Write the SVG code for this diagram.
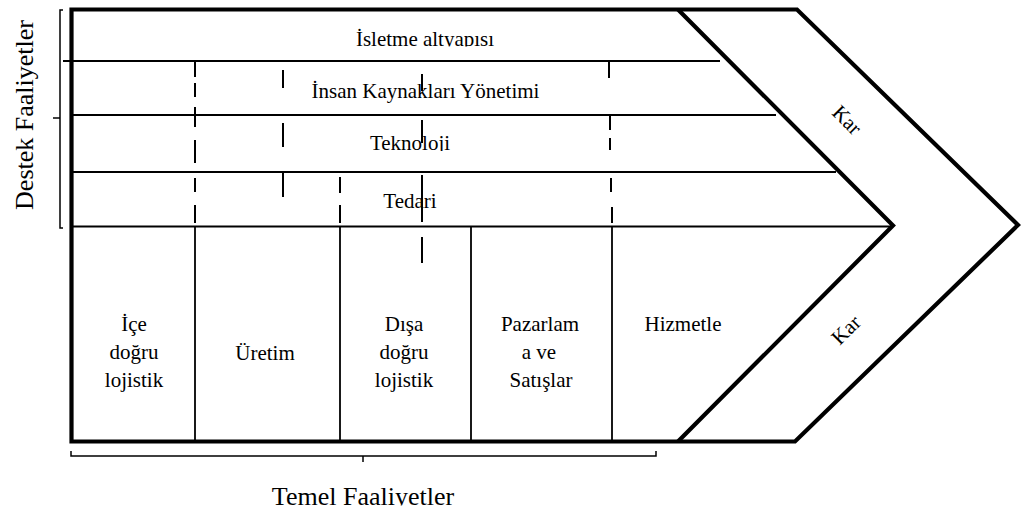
<svg xmlns="http://www.w3.org/2000/svg" width="1021" height="511" viewBox="0 0 1021 511">
  <style>
    text { font-family: "Liberation Serif", "Times New Roman", serif; fill: #000; }
    .lbl { font-size: 21px; text-anchor: middle; }
    .big { font-size: 26px; text-anchor: middle; }
    .thick { fill: none; stroke: #000; stroke-width: 4.2; stroke-linejoin: miter; }
    .thin { fill: none; stroke: #000; stroke-width: 1.8; }
    .brk { fill: none; stroke: #000; stroke-width: 1.5; }
    .dash { fill: none; stroke: #000; stroke-width: 2; }
  </style>
  <defs>
    <clipPath id="clipTop"><rect x="0" y="0" width="1021" height="46.5"/></clipPath>
    <clipPath id="clipTech"><rect x="0" y="120" width="1021" height="31"/></clipPath>
    <clipPath id="clipBottom"><rect x="0" y="460" width="1021" height="45.5"/></clipPath>
  </defs>

  <rect x="0" y="0" width="1021" height="511" fill="#fff"/>

  <!-- outer arrow frame and margin chevron -->
  <g id="frame">
    <path class="thick" d="M71.5,9.5 H797 L1018,225 L795,441.5 H71.5 Z"/>
    <path class="thick" d="M678,9.5 L893,225.5 L678,441.5"/>
  </g>

  <g id="connectors">
    <!-- support activity row separators -->
    <line class="thin" x1="63" y1="61" x2="720" y2="61"/>
    <line class="thin" x1="71" y1="115" x2="776" y2="115"/>
    <line class="thin" x1="71" y1="172" x2="836" y2="172"/>
    <line class="thin" x1="71" y1="226.5" x2="893" y2="226.5" stroke-width="2.2"/>

    <!-- primary activity column separators -->
    <line class="thin" x1="195" y1="226" x2="195" y2="441"/>
    <line class="thin" x1="340" y1="226" x2="340" y2="441"/>
    <line class="thin" x1="471" y1="226" x2="471" y2="441"/>
    <line class="thin" x1="612" y1="226" x2="612" y2="441"/>

    <!-- dashed links through the support rows -->
    <path class="dash" d="M195,61 V77 M195,83 V97 M195,107 V127 M195,140 V163 M195,178 V192 M195,205 V223"/>
    <path class="dash" d="M283,70 V88 M283,123 V147 M283,173 V197"/>
    <path class="dash" d="M340,177 V193 M340,205 V223"/>
    <path class="dash" d="M422,74 V91 M422,120 V143 M422,175 V222 M422,237 V263"/>
    <path class="dash" d="M609,61 V78 M610,115 V130 M610,138 V150 M611,178 V192 M612,207 V223"/>
  </g>

  <!-- brackets -->
  <g id="support-bracket">
    <path class="brk" d="M63,10 H60 V228 H63"/>
    <line class="brk" x1="60" y1="118" x2="53" y2="118" stroke-width="2"/>
    <text class="big" transform="translate(33,115) rotate(-90)" font-size="27">Destek Faaliyetler</text>
  </g>
  <g id="primary-bracket">
    <path class="brk" d="M71,451 V456 H656 V451"/>
    <line class="brk" x1="363" y1="456" x2="363" y2="462" stroke-width="2"/>
    <text class="big" x="363" y="505" clip-path="url(#clipBottom)">Temel Faaliyetler</text>
  </g>

  <!-- support activities -->
  <g id="infrastructure">
    <text class="lbl" x="425" y="46" clip-path="url(#clipTop)">İsletme altyapısı</text>
  </g>
  <g id="hrm">
    <text class="lbl" x="425.5" y="98">İnsan Kaynakları Yönetimi</text>
  </g>
  <g id="technology">
    <text class="lbl" x="410" y="150" clip-path="url(#clipTech)">Teknoloji</text>
  </g>
  <g id="procurement">
    <text class="lbl" x="410" y="208">Tedari</text>
  </g>

  <!-- primary activities -->
  <g id="inbound">
    <text class="lbl" x="134" y="331">İçe</text>
    <text class="lbl" x="134" y="359">doğru</text>
    <text class="lbl" x="134" y="387">lojistik</text>
  </g>
  <g id="operations">
    <text class="lbl" x="265" y="360">Üretim</text>
  </g>
  <g id="outbound">
    <text class="lbl" x="404" y="331">Dışa</text>
    <text class="lbl" x="404" y="359">doğru</text>
    <text class="lbl" x="404" y="387">lojistik</text>
  </g>
  <g id="marketing">
    <text class="lbl" x="540" y="331">Pazarlam</text>
    <text class="lbl" x="539" y="359">a ve</text>
    <text class="lbl" x="541" y="387">Satışlar</text>
  </g>
  <g id="service">
    <text class="lbl" x="683" y="331">Hizmetle</text>
  </g>

  <!-- margin -->
  <g id="margin-top">
    <text class="lbl" font-size="20" transform="translate(847,120) rotate(45)" y="7">Kar</text>
  </g>
  <g id="margin-bottom">
    <text class="lbl" font-size="20" transform="translate(846,330) rotate(-45)" y="7">Kar</text>
  </g>
</svg>
